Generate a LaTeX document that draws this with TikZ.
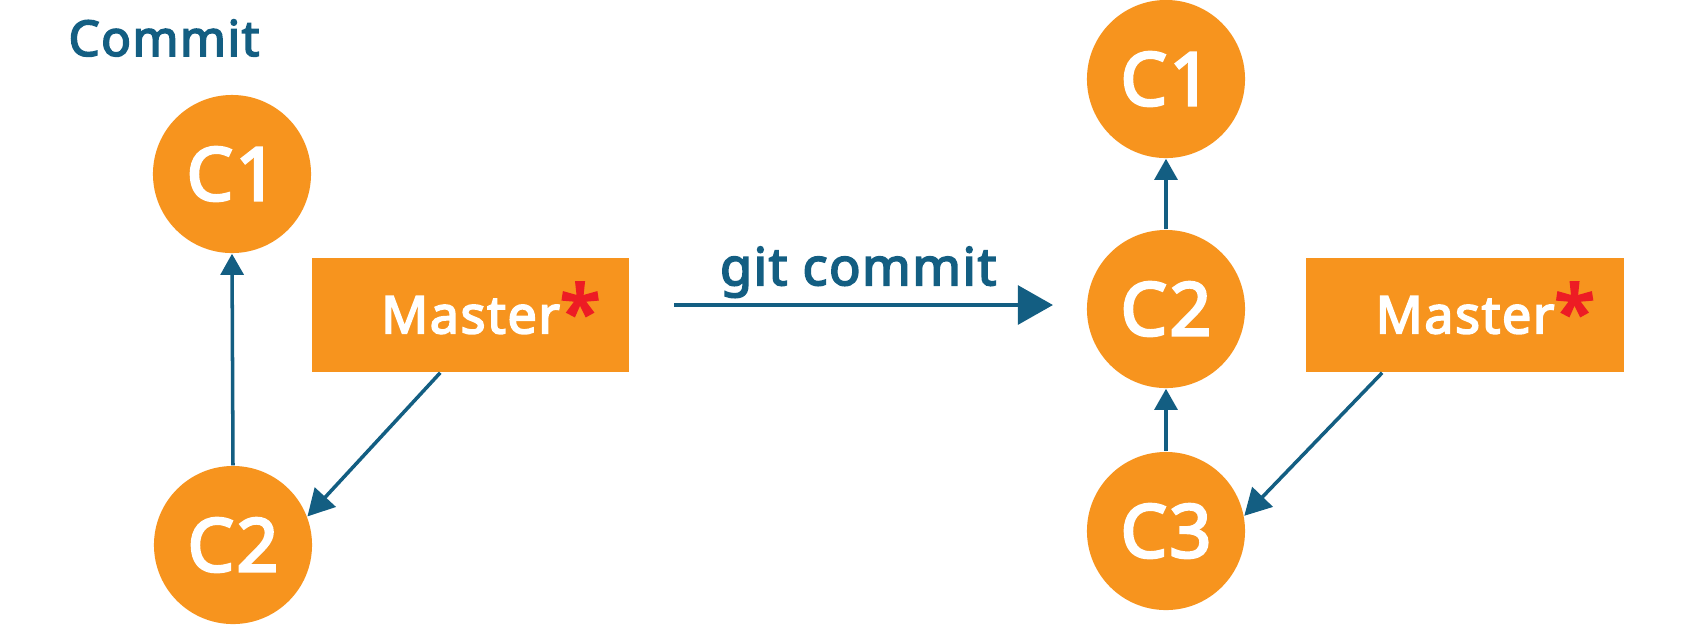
\documentclass[tikz,border=0pt]{standalone}
\usepackage{fontspec}
\setmainfont{Noto Sans}
\newfontfamily\heavyfont{Noto Sans}[FakeBold=3.4, LetterSpace=3]
\usepackage{tikz}
\usetikzlibrary{arrows.meta, calc}

\definecolor{commitorange}{RGB}{247,148,30}
\definecolor{gitblue}{RGB}{19,94,130}
\definecolor{starred}{RGB}{237,28,36}

\newcommand{\mstar}{\smash{\rlap{\raisebox{-1.5pt}{\color{starred}\fontsize{21pt}{21pt}\selectfont *}}}}

\begin{document}
\begin{tikzpicture}[x=0.01cm, y=-0.01cm,
  commit/.style={circle, fill=commitorange, minimum size=1.58cm, inner sep=0pt, text=white, font=\heavyfont\fontsize{21pt}{21pt}\selectfont},
  branch/.style={rectangle, fill=commitorange, minimum width=3.17cm, minimum height=1.14cm, inner sep=0pt, text=white, font=\heavyfont\fontsize{14.8pt}{16pt}\selectfont},
  link/.style={draw=gitblue, line width=1pt, -{Triangle[length=6pt, width=6.5pt]}},
  headlink/.style={draw=gitblue, line width=1pt, -{Triangle[length=7.5pt, width=8pt]}}]

\useasboundingbox (0,0) rectangle (1699,626);

% Title
\node[text=gitblue, font=\heavyfont\fontsize{14pt}{16pt}\selectfont] (title) at (164,38) {Commit};

% Before the commit
\node[commit] (L1) at (232,174) {C1}; % Top
\node[commit] (L2) at (233,545) {C2}; % Bottom
\node[branch] (LM) at (470.5,315) {Master\mstar}; % Branch

% After the commit
\node[commit] (R1) at (1166,79) {C1}; % Top
\node[commit] (R2) at (1166,309) {C2}; % Middle
\node[commit] (R3) at (1166,531) {C3}; % Bottom
\node[branch] (RM) at (1465,315) {Master\mstar}; % Branch

% The git commit step
\coordinate (gA) at (674,305);
\coordinate (gB) at (1053,305);
\draw[draw=gitblue, line width=1.2pt, -{Triangle[length=10pt, width=11pt]}] (gA) -- (gB)
  node[midway, above=0pt, inner sep=1.5pt, xshift=-1.5pt, text=gitblue, font=\heavyfont\fontsize{14.8pt}{16pt}\selectfont] (gLabel) {git commit};

% Parent links and branch heads
\draw[link] (L2.north) -- (L1.south);
\draw[headlink] ($(LM.south west)!0.405!(LM.south east)$) -- (L2.21);
\draw[link] (R2.north) -- (R1.south);
\draw[link] (R3.north) -- (R2.south);
\draw[headlink] ($(RM.south west)!0.24!(RM.south east)$) -- (R3.11);
\end{tikzpicture}
\end{document}
